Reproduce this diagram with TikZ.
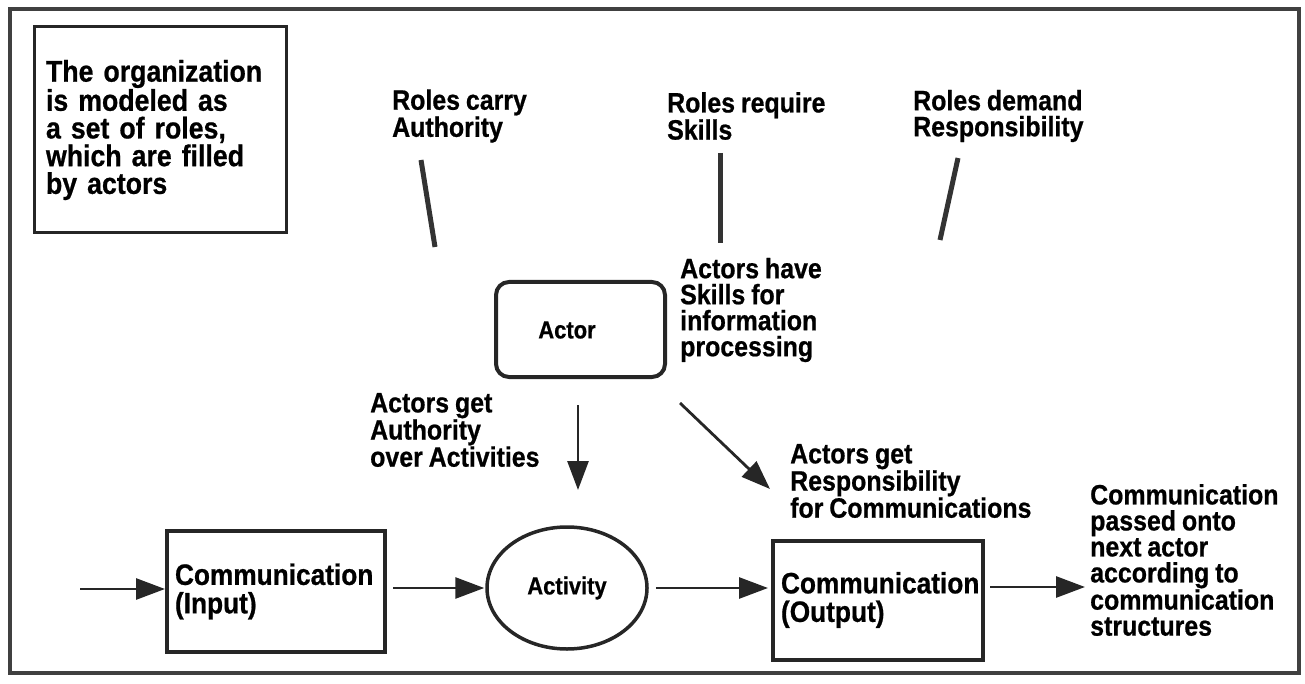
\documentclass[tikz,border=0pt]{standalone}
\usepackage{fontspec}
\setmainfont[FakeStretch=0.89, WordSpace=0.85, BoldFeatures={FakeBold=0.7}]{Liberation Sans}
\usetikzlibrary{arrows.meta,shapes.geometric}
\begin{document}
\begin{tikzpicture}[x=1pt,y=-1pt,
  lbl/.style={font=\fontsize{28}{26}\selectfont\bfseries, align=left, inner sep=0pt, anchor=west},
  arr/.style={line width=2.8pt, draw=black!85, -{Triangle[length=29pt,width=21pt]}},
  roleline/.style={line width=5pt, draw=black!80},
  commbox/.style={draw=black!85, line width=4pt, rectangle, font=\fontsize{29.5}{28.5}\selectfont\bfseries,
    align=left, inner xsep=8pt, anchor=center},
]
\useasboundingbox (0,0) rectangle (1305,684);
% outer frame
\draw[line width=3.5pt, black!75] (10,9) rectangle (1299,673);

% introduction box
\node[draw=black!85, line width=3pt, minimum width=252pt, minimum height=206pt,
  text width=228pt, align=left, inner sep=0pt,
  font=\fontsize{30}{27.7}\selectfont\bfseries] (intro) at (160,130)
  {The organization\\is modeled as\\a set of roles,\\which are filled\\by actors};

% role statements
\node[lbl] (rauth) at (392,116) {Roles carry\\Authority};
\node[lbl] (rskill) at (667,116) {Roles require\\Skills};
\node[lbl] (rresp) at (913,116) {Roles demand\\Responsibility};

\coordinate (la1) at (421,160); \coordinate (la2) at (435,247);
\coordinate (ls1) at (720,153); \coordinate (ls2) at (720,243);
\coordinate (lr1) at (958,158); \coordinate (lr2) at (940,240);
\draw[roleline] (la1) -- (la2);
\draw[roleline] (ls1) -- (ls2);
\draw[roleline] (lr1) -- (lr2);

% actor
\node[draw=black!85, line width=4pt, rounded corners=13pt, minimum width=169pt, minimum height=95pt] (actor) at (580.5,329.5) {};
\node[font=\fontsize{24.7}{26}\selectfont\bfseries, inner sep=0pt] (actorname) at (567,330) {Actor};
\node[lbl] (skills) at (680,310) {Actors have\\Skills for\\information\\processing};

% authority and responsibility
\node[lbl] (auth) at (370,430) {Actors get\\Authority\\over Activities};
\node[lbl] (resp) at (790,481) {Actors get\\Responsibility\\for Communications};

% main flow
\node[commbox, minimum width=218pt, minimum height=121pt, text width=202pt] (cin) at (276,591.5)
  {Communication\\(Input)};
\node[draw=black!85, line width=3.5pt, ellipse, minimum width=160pt, minimum height=122pt,
  font=\fontsize{24.7}{26}\selectfont\bfseries] (act) at (567,588) {Activity};
\node[commbox, minimum width=210pt, minimum height=119pt, text width=194pt] (cout) at (878,600)
  {Communication\\(Output)};
\node[lbl] (next) at (1090,560) {Communication\\passed onto\\next actor\\according to\\communication\\structures};

\coordinate (src) at (80,589);
\coordinate (dwn1) at (578,405); \coordinate (dwn2) at (578,490);
\coordinate (dia1) at (680,403); \coordinate (dia2) at (770,489);
\coordinate (fwd) at (1085,587);

\draw[arr] (src) -- (cin.west |- src);
\draw[arr] ([xshift=6pt]cin.east |- act) -- ([xshift=-1pt]act.west);
\draw[arr] ([xshift=7pt]act.east) -- ([xshift=-3pt]cout.west |- act);
\draw[arr] ([xshift=5pt]cout.east |- fwd) -- (fwd);
\draw[arr] (dwn1) -- (dwn2);
\draw[arr] (dia1) -- (dia2);
\end{tikzpicture}
\end{document}
